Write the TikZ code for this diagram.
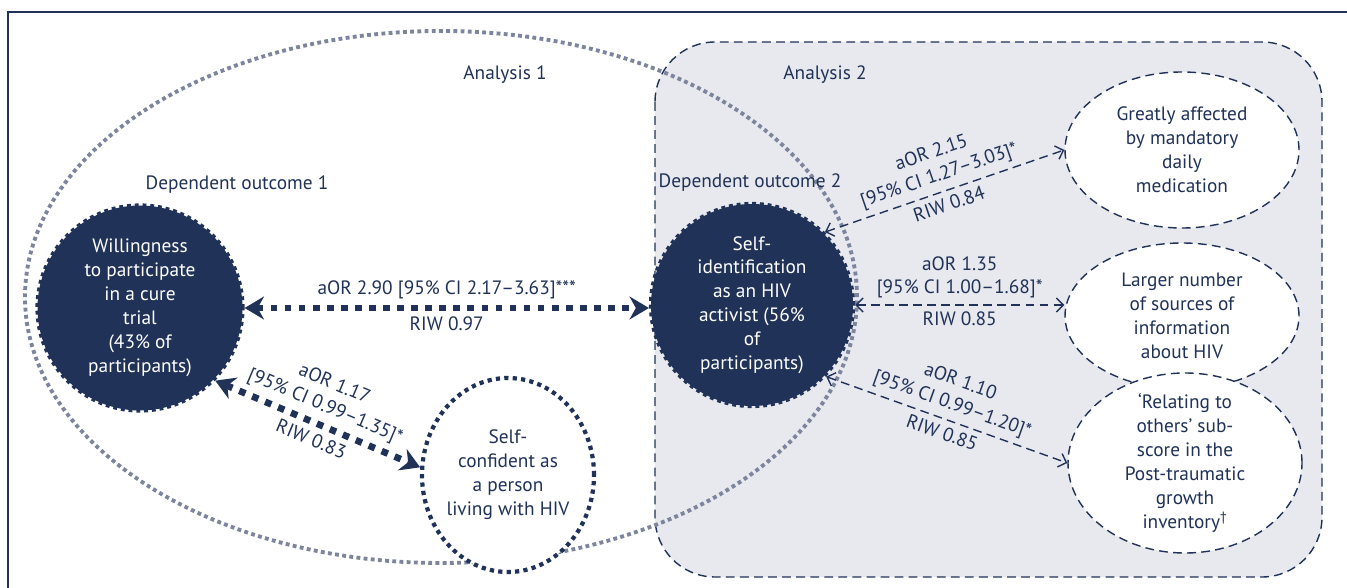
\documentclass[tikz,border=0pt]{standalone}
\usepackage{fontspec}
\setmainfont{PT Sans}
\usetikzlibrary{arrows.meta,shapes.geometric}
\definecolor{navy}{RGB}{32,50,87}
\definecolor{ringgrey}{RGB}{124,133,156}
\definecolor{boxgrey}{RGB}{232,233,238}
\tikzset{
  txt/.style={text=navy, font=\fontsize{11}{13.6}\selectfont, align=center},
  wtxt/.style={txt, text=white},
  darkout/.style={circle, fill=navy, draw=navy, line width=2.4pt, dash pattern=on 2.2pt off 2.2pt, minimum size=4.1cm, inner sep=0pt},
  dotout/.style={ellipse, fill=white, draw=navy, line width=2.4pt, dash pattern=on 2.4pt off 2.4pt, inner sep=0pt},
  thindash/.style={draw=navy, line width=0.8pt, dash pattern=on 5pt off 3pt},
  dashout/.style={ellipse, thindash, fill=white, minimum width=4.68cm, inner sep=0pt},
  thickarr/.style={navy, line width=3.8pt, dash pattern=on 3.8pt off 4.2pt,
    arrows={Stealth[length=11pt,width=13pt]-Stealth[length=11pt,width=13pt]}},
  thinarr/.style={thindash,
    arrows={Straight Barb[length=4pt,width=8pt]-Straight Barb[length=4pt,width=8pt]}}
}
\begin{document}
\begin{tikzpicture}
    \useasboundingbox (0,0) rectangle (26.94,-11.76);
    \draw[navy, line width=0.8pt] (0.16,-11.76) -- (0.16,-0.24) -- (26.94,-0.24);
    % the two analyses
    \draw[thindash, fill=boxgrey, rounded corners=1.2cm] (13.1,-0.84) rectangle (26.44,-11.54);
    \draw[ringgrey, line width=2.2pt, dash pattern=on 2.2pt off 1.9pt] (8.82,-5.94) ellipse [x radius=8.32, y radius=5.32];
    \node[txt] (a1) at (10.1,-1.5) {Analysis 1};
    \node[txt] (a2) at (16.5,-1.5) {Analysis 2};
    \node[txt] (d1) at (4.74,-3.7) {Dependent outcome 1};
    \node[txt] (d2) at (15.0,-3.65) {Dependent outcome 2};
    % outcomes
    \node[darkout, label={[wtxt]center:{Willingness\\to participate\\in a cure\\trial\\(43\% of\\participants)}}] (W) at (2.8,-6.16) {};
    \node[darkout, minimum size=4.04cm, label={[wtxt]center:{Self-\\identification\\as an HIV\\activist (56\%\\of\\participants)}}] (S) at (15.04,-6.1) {};
    \node[dotout, minimum width=3.44cm, minimum height=3.88cm, label={[txt]center:{Self-\\confident as\\a person\\living with HIV}}] (C) at (10.16,-9.5) {};
    \node[dashout, minimum height=3.12cm, label={[txt]center:{Greatly affected\\by mandatory\\daily\\medication}}] (G) at (23.64,-3.0) {};
    \node[dashout, minimum height=2.92cm, label={[txt]center:{Larger number\\of sources of\\information\\about HIV}}] (L) at (23.64,-6.32) {};
    \node[dashout, minimum height=3.6cm, label={[txt]center:{‘Relating to\\others’ sub-\\score in the\\Post-traumatic\\growth\\inventory\textsuperscript{\textdagger}}}] (R) at (23.7,-9.26) {};
    % associations
    \draw[thickarr] (W.east) -- node[txt, above] {aOR 2.90 [95\% CI 2.17–3.63]***} node[txt, below] {RIW 0.97} (W.east -| S.west);
    \draw[thickarr] (W.-44) -- node[txt, sloped, above] {aOR 1.17\\{[95\% CI 0.99–1.35]}*} node[txt, sloped, below] {RIW 0.83} (C.175);
    \draw[thinarr] (S.45) -- node[txt, sloped, above] {aOR 2.15\\{[95\% CI 1.27–3.03]}*} node[txt, sloped, below] {RIW 0.84} (G.west);
    \draw[thinarr] (S.east) -- node[txt, above] {aOR 1.35\\{[95\% CI 1.00–1.68]}*} node[txt, below] {RIW 0.85} (S.east -| L.west);
    \draw[thinarr] (S.-44) -- node[txt, sloped, above] {aOR 1.10\\{[95\% CI 0.99–1.20]}*} node[txt, sloped, below] {RIW 0.85} (R.west);
\end{tikzpicture}
\end{document}
